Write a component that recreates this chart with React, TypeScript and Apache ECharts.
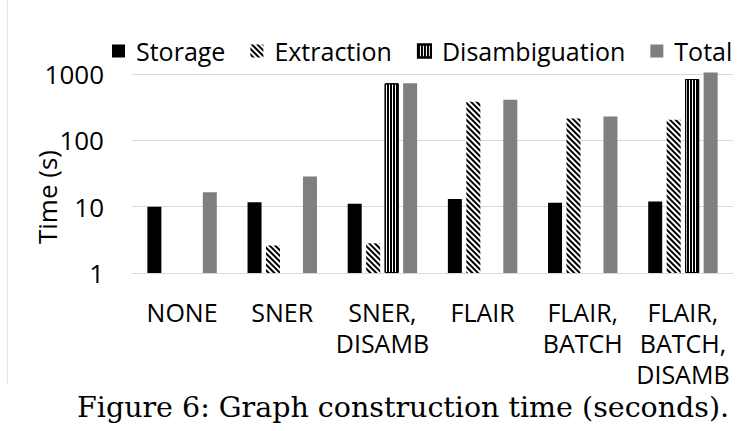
import React, { useEffect, useRef } from "react";
import * as echarts from "echarts";

const categories = ["NONE", "SNER", "SNER,\nDISAMB", "FLAIR", "FLAIR,\nBATCH", "FLAIR,\nBATCH,\nDISAMB"];
const storage = [10, 11.7, 11.1, 13.1, 11.5, 12];
const extraction = [null, 2.6, 2.8, 381, 213, 205];
const disambiguation = [null, null, 723, null, null, 840];
const total = [16.5, 28.5, 723, 410, 229, 1050];
const seriesNames = ["Storage", "Extraction", "Disambiguation", "Total"];
const yTicks = [1, 10, 100, 1000];
const yTitle = "Time (s)";
const caption = "Figure 6: Graph construction time (seconds).";

const FONT = "'Open Sans', 'Noto Sans', sans-serif";

export default function App() {
  const ref = useRef<HTMLDivElement>(null);
  useEffect(() => {
    if (!ref.current) return;
    const chart = echarts.init(ref.current, null, { renderer: "svg" });
    const common = { type: "bar", barWidth: 14, barGap: "32%", clip: false };
    chart.setOption({
      animation: false,
      backgroundColor: "#fff",
      textStyle: { fontFamily: FONT },
      legend: {
        left: 112,
        top: 36,
        padding: 0,
        itemWidth: 13,
        itemHeight: 13,
        itemGap: 25,
        icon: "rect",
        data: seriesNames,
        textStyle: { fontSize: 25, color: "#000", fontFamily: FONT, lineHeight: 30, padding: [0, 0, 0, 6] },
      },
      grid: { left: 132, right: 18, top: 74, bottom: 158, containLabel: false },
      xAxis: {
        type: "category",
        data: categories,
        axisLine: { show: true, lineStyle: { color: "#d9d9d9", width: 1 } },
        axisTick: { show: false },
        axisLabel: { interval: 0, fontSize: 25, lineHeight: 31, color: "#000", margin: 23, fontFamily: FONT },
      },
      yAxis: {
        type: "log",
        logBase: 10,
        min: yTicks[0],
        max: yTicks[yTicks.length - 1],
        axisLine: { show: false },
        axisTick: { show: false },
        splitLine: { show: true, lineStyle: { color: "#d9d9d9", width: 1 } },
        axisLabel: {
          fontSize: 26,
          color: "#000",
          margin: 28,
          fontFamily: FONT,
          formatter: (v: number) => String(Math.round(v)),
        },
      },
      series: [
        { ...common, name: seriesNames[0], data: storage, itemStyle: { color: "#000" } },
        {
          ...common,
          name: seriesNames[1],
          data: extraction,
          itemStyle: {
            color: "#fff",
            decal: {
              color: "#000",
              symbol: "rect",
              symbolSize: 1,
              dashArrayX: [[2, 2]],
              dashArrayY: [10, 0],
              rotation: -Math.PI / 4,
            },
          },
        },
        {
          ...common,
          name: seriesNames[2],
          data: disambiguation,
          itemStyle: {
            color: "#fff",
            borderColor: "#000",
            borderWidth: 1,
            decal: {
              color: "#000",
              symbol: "rect",
              symbolSize: 1,
              dashArrayX: [[2, 1]],
              dashArrayY: [10, 0],
              rotation: 0,
            },
          },
        },
        { ...common, name: seriesNames[3], data: total, itemStyle: { color: "#7f7f7f" } },
      ],
      graphic: [
        {
          type: "line",
          shape: { x1: 7.5, y1: 0, x2: 7.5, y2: 385 },
          style: { stroke: "#e8e8e8", lineWidth: 1 },
        },
        {
          type: "text",
          x: 47,
          y: 197,
          rotation: Math.PI / 2,
          style: {
            text: yTitle,
            fontSize: 26,
            fontFamily: FONT,
            fill: "#000",
            align: "center",
            verticalAlign: "middle",
          },
        },
        {
          type: "text",
          x: 77,
          y: 407,
          style: {
            text: caption,
            fontSize: 28.5,
            fontFamily: "'DejaVu Serif', serif",
            fill: "#000",
            align: "left",
            verticalAlign: "middle",
          },
        },
      ],
    });
    return () => chart.dispose();
  }, []);
  return <div ref={ref} style={{ width: 751, height: 431, position: "absolute", left: 0, top: 0 }} />;
}
